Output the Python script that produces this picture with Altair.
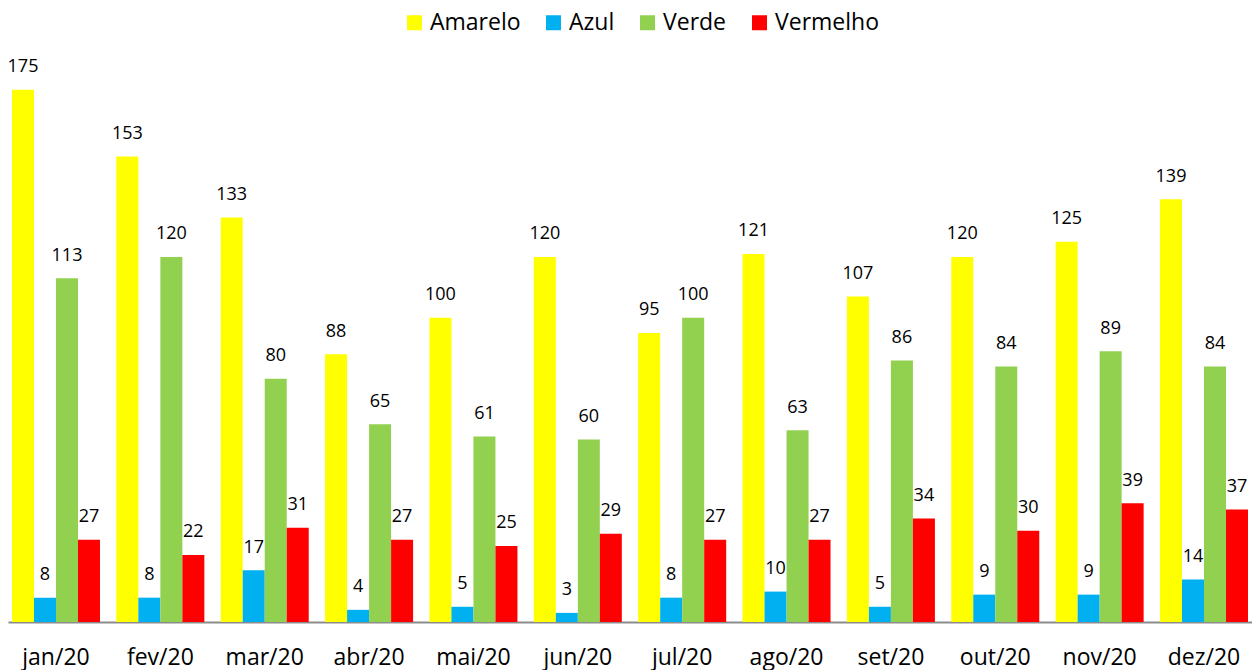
import altair as alt
import pandas as pd

months = ["jan/20", "fev/20", "mar/20", "abr/20", "mai/20", "jun/20",
          "jul/20", "ago/20", "set/20", "out/20", "nov/20", "dez/20"]
series = ["Amarelo", "Azul", "Verde", "Vermelho"]
colors = ["#FFFF00", "#00B0F0", "#92D050", "#FF0000"]

amarelo = [175, 153, 133, 88, 100, 120, 95, 121, 107, 120, 125, 139]
azul = [8, 8, 17, 4, 5, 3, 8, 10, 5, 9, 9, 14]
verde = [113, 120, 80, 65, 61, 60, 100, 63, 86, 84, 89, 84]
vermelho = [27, 22, 31, 27, 25, 29, 27, 27, 34, 30, 39, 37]

values = {"Amarelo": amarelo, "Azul": azul, "Verde": verde, "Vermelho": vermelho}
rows = []
for s in series:
    for m, v in zip(months, values[s]):
        rows.append({"mes": m, "serie": s, "valor": v})
df = pd.DataFrame(rows)

FONT = "Open Sans"

x = alt.X("mes:N", sort=months, title=None,
          scale=alt.Scale(paddingInner=0.1568, paddingOuter=0.0383),
          axis=alt.Axis(labelAngle=0, labelFont=FONT, labelFontSize=23,
                        labelColor="#000000", labelBaseline="alphabetic",
                        labelPadding=42, ticks=False, domainColor="#8C8C8C",
                        domainWidth=2, grid=False))
xo = alt.XOffset("serie:N", sort=series,
                 scale=alt.Scale(paddingInner=0, paddingOuter=0))
y = alt.Y("valor:Q", title=None, scale=alt.Scale(domain=[0, 190], nice=False),
          axis=None)
color = alt.Color("serie:N", sort=series,
                  scale=alt.Scale(domain=series, range=colors),
                  legend=alt.Legend(title=None, orient="none", direction="horizontal",
                                    legendX=395, legendY=-33,
                                    symbolType="square", symbolSize=225,
                                    symbolStrokeWidth=0, symbolOpacity=1,
                                    labelFont=FONT, labelFontSize=23,
                                    labelColor="#000000", labelOffset=4,
                                    columnPadding=21))

base = alt.Chart(df)
bars = base.mark_bar(opacity=1).encode(x=x, xOffset=xo, y=y, color=color)
labels = base.mark_text(font=FONT, fontSize=18, color="#000000",
                        baseline="alphabetic", dy=-17.6).encode(
    x=x, xOffset=xo, y=y, text="valor:Q")

chart = (bars + labels).properties(
    width=1244, height=578,
    autosize=alt.AutoSizeParams(type="none"),
    padding={"left": 0, "top": 36, "right": 0, "bottom": 50},
).configure_view(stroke=None)

chart.save("out.html", embed_options={"renderer": "svg", "actions": False})
